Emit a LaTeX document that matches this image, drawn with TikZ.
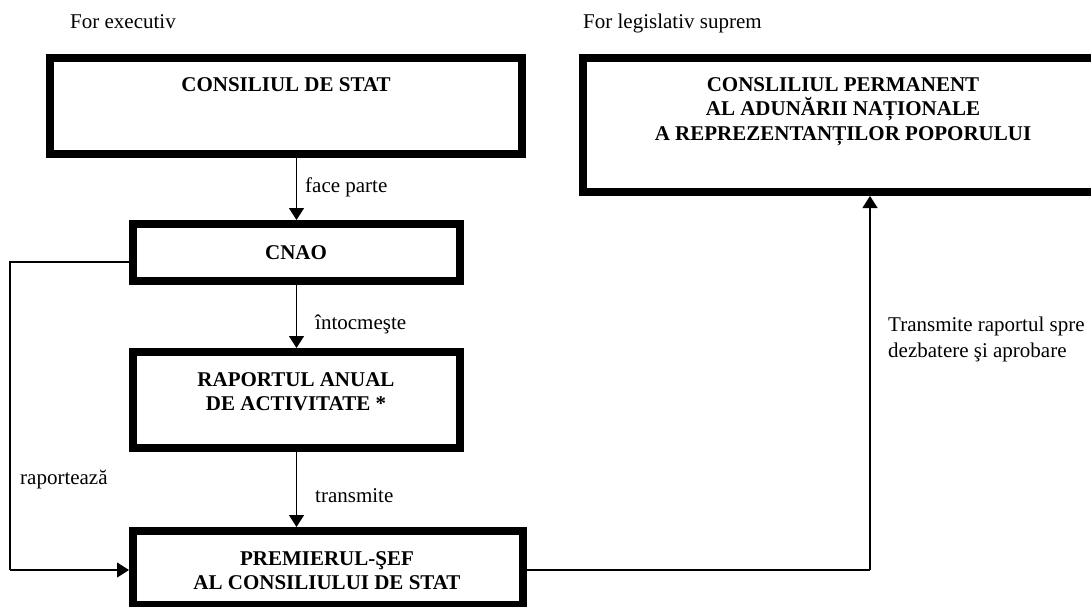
\documentclass[tikz,border=0pt]{standalone}
\usepackage{fontspec}
\setmainfont{Liberation Serif}
\usetikzlibrary{arrows.meta}
\begin{document}
\begin{tikzpicture}[x=1pt,y=-1pt,
  box/.style={draw, line width=8pt, inner sep=0pt, outer sep=4pt},
  txt/.style={font=\fontsize{21}{24.5}\selectfont, inner sep=0pt},
  btxt/.style={txt, font=\fontsize{21}{24.5}\selectfont\bfseries, align=center, anchor=north},
  conn/.style={line width=1.2pt, -{Triangle[length=12pt,width=15pt]}},
  plain/.style={line width=1.2pt}]
\useasboundingbox (0,0) rectangle (1091,607);
\clip (0,0) rectangle (1091,607);
\fill[white] (0,0) rectangle (1091,607);

% headings
\node[txt, anchor=base west] (hexec) at (70,29) {For executiv};
\node[txt, anchor=base west] (hleg) at (583,29) {For legislativ suprem};

% boxes
\node[box, minimum width=472pt, minimum height=96pt] (cs) at (286,106) {};
\node[box, minimum width=520pt, minimum height=134pt] (perm) at (843,125) {};
\node[box, minimum width=327pt, minimum height=57pt] (cnao) at (296.5,252.5) {};
\node[box, minimum width=327pt, minimum height=96pt] (rap) at (296.5,400) {};
\node[box, minimum width=390pt, minimum height=74pt] (prem) at (328,568) {};

% box texts
\node[btxt] (cst) at (286,77.1) {CONSILIUL DE STAT};
\node[btxt] (permt) at (843,77.1) {CONSLILIUL PERMANENT\\AL ADUNĂRII NAȚIONALE\\A REPREZENTANȚILOR POPORULUI};
\node[btxt] (cnaot) at (296,245.3) {CNAO};
\node[btxt] (rapt) at (296,372.3) {RAPORTUL ANUAL\\DE ACTIVITATE *};
\node[btxt] (premt) at (327,551.3) {PREMIERUL-ŞEF\\AL CONSILIULUI DE STAT};

% connectors
\draw[conn] (cnao.north |- cs.south) -- (cnao.north);
\draw[conn] (cnao.south) -- (rap.north);
\draw[conn] (rap.south) -- (rap.south |- prem.north);

\coordinate (l1) at (10,262);
\coordinate (l2) at (10,570);
\draw[plain] (cnao.west |- l1) -- (l1) -- (l2);
\draw[conn] (l2) -- (prem.west |- l2);

\coordinate (r1) at (870,570);
\draw[plain] (prem.east |- r1) -- (r1);
\draw[conn] (r1) -- (r1 |- perm.south);

% connector labels
\node[txt, anchor=base west] (lface) at (305,192) {face parte};
\node[txt, anchor=base west] (lintoc) at (315,329) {întocmeşte};
\node[txt, anchor=base west] (ltrans) at (315,502) {transmite};
\node[txt, anchor=base west] (lrap) at (20,484) {raportează};
\node[txt, anchor=north west, align=left, font=\fontsize{21}{26}\selectfont] (ltr2) at (888,316.7) {Transmite raportul spre\\dezbatere şi aprobare};
\end{tikzpicture}
\end{document}
